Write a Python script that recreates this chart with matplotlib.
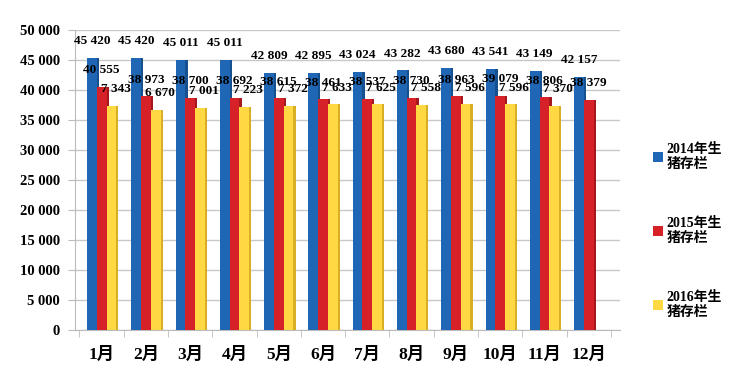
import numpy as np
import matplotlib.pyplot as plt

months = ['1月', '2月', '3月', '4月', '5月', '6月', '7月', '8月', '9月', '10月', '11月', '12月']
pigs_2014 = [45420, 45420, 45011, 45011, 42809, 42895, 43024, 43282, 43680, 43541, 43149, 42157]
pigs_2015 = [40555, 38973, 38700, 38692, 38615, 38461, 38537, 38730, 38963, 39079, 38806, 38379]
pigs_2016 = [37343, 36670, 37001, 37223, 37372, 37633, 37625, 37558, 37596, 37596, 37370]
# labels of 2016 as printed in the source (leading digit hidden)
labels_2016 = ['7 343', '6 670', '7 001', '7 223', '7 372', '7 633', '7 625', '7 558', '7 596', '7 596', '7 370']
series_names = ['2014年生\n猪存栏', '2015年生\n猪存栏', '2016年生\n猪存栏']

plt.rcParams['font.family'] = ['Liberation Serif', 'Noto Sans CJK SC']
plt.rcParams['font.weight'] = 'bold'

colors = ['#1F67B5', '#D62128', '#FFD843']
sides = ['#16508E', '#A5181D', '#D8AE25']


def fmt(v):
    return f'{v:,.0f}'.replace(',', ' ')


fig = plt.figure(figsize=(7.36, 3.85), dpi=100)
ax = fig.add_axes([0.102, 0.143, 0.74, 0.779])

w = 0.22
d = 0.05
x = np.arange(len(months))
handles = []
for k, vals in enumerate([pigs_2014, pigs_2015, pigs_2016]):
    xs = x[:len(vals)] + (k - 1) * w
    b = ax.bar(xs, vals, width=w, color=colors[k], zorder=3, label=series_names[k])
    ax.bar(xs + w / 2 + d / 2, vals, width=d, color=sides[k], zorder=3)
    handles.append(b)
    if k == 2:
        texts = labels_2016
    else:
        texts = [fmt(v) for v in vals]
    for xi, v, t in zip(xs, vals, texts):
        dx = 3 if k == 2 else 0
        ax.annotate(t, (xi, v), xytext=(dx, 12), textcoords='offset points',
                    ha='center', va='center', fontsize=9.5, zorder=5)

ax.set_ylim(0, 50000)
ax.set_xlim(-0.6, 11.7)
ax.set_yticks(np.arange(0, 50001, 5000))
ax.set_yticklabels([fmt(v) for v in np.arange(0, 50001, 5000)], fontsize=10.5)
ax.set_xticks(x)
ax.set_xticklabels(months, fontsize=12.5)
ax.set_xticks(np.arange(-0.5, 12, 1), minor=True)
ax.tick_params(axis='x', which='major', length=0, pad=12)
ax.tick_params(axis='x', which='minor', length=5, color='#BBBBBB')
ax.tick_params(axis='y', length=5, color='#BBBBBB', pad=6)
ax.grid(axis='y', color='#C8C8C8', lw=1, zorder=0)
for s in ['top', 'right']:
    ax.spines[s].set_visible(False)
for s in ['left', 'bottom']:
    ax.spines[s].set_color('#BBBBBB')

fig.legend(handles=handles, loc='center left', bbox_to_anchor=(0.87, 0.4),
           frameon=False, fontsize=10, handlelength=0.7, handleheight=0.7,
           handletextpad=0.3, labelspacing=3.3)

fig.savefig('out.png', dpi=100)
